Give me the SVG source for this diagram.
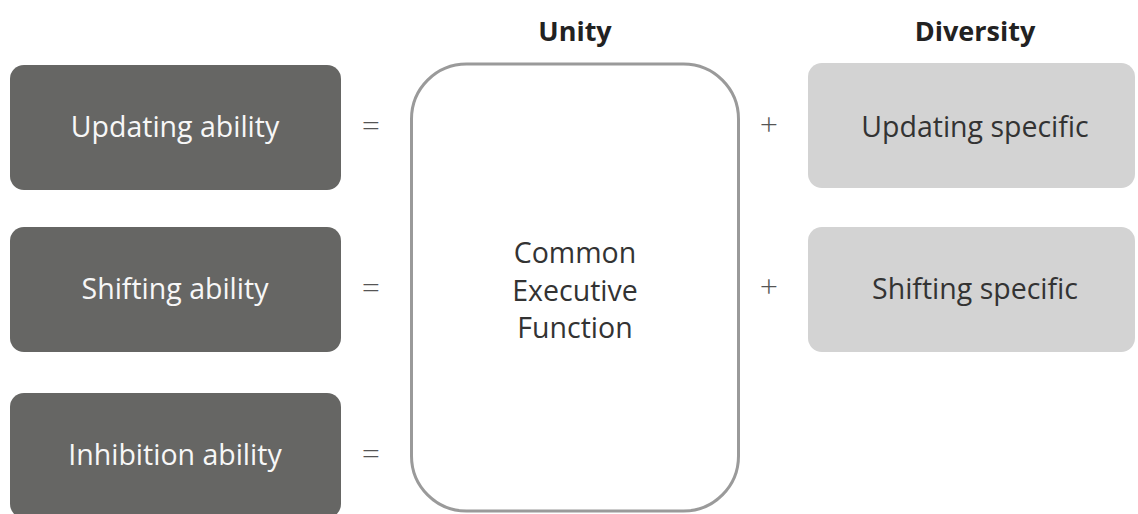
<svg xmlns="http://www.w3.org/2000/svg" width="1138" height="514" viewBox="0 0 1138 514">
<style>
text{font-family:"Open Sans","Noto Sans",sans-serif;text-anchor:middle}
.dark{fill:#666664}
.light{fill:#d3d3d3}
.lt{fill:#f7f7f7;font-size:28.5px}
.rt{fill:#333333;font-size:28.5px}
.hd{fill:#222222;font-size:27px;font-weight:bold}
.op{fill:#555555;font-size:32px;font-weight:300}
.ct{fill:#333333;font-size:28.5px}
</style>
<rect width="1138" height="514" fill="#ffffff"/>
<text class="hd" x="575" y="41">Unity</text>
<text class="hd" x="975" y="41">Diversity</text>
<g id="updating-ability"><rect class="dark" x="10" y="65" width="331" height="125" rx="14"/><text class="lt" x="175" y="137">Updating ability</text></g>
<g id="shifting-ability"><rect class="dark" x="10" y="227" width="331" height="125" rx="14"/><text class="lt" x="175" y="299">Shifting ability</text></g>
<g id="inhibition-ability"><rect class="dark" x="10" y="393" width="331" height="125" rx="14"/><text class="lt" x="175" y="465">Inhibition ability</text></g>
<g id="common-ef"><rect x="411.5" y="64" width="327" height="447" rx="55" fill="#ffffff" stroke="#9a9a9a" stroke-width="3"/>
<text class="ct" x="575" y="263">Common</text><text class="ct" x="575" y="301">Executive</text><text class="ct" x="575" y="338">Function</text></g>
<g id="updating-specific"><rect class="light" x="808" y="63" width="327" height="125" rx="14"/><text class="rt" x="975" y="137">Updating specific</text></g>
<g id="shifting-specific"><rect class="light" x="808" y="227" width="327" height="125" rx="14"/><text class="rt" x="975" y="299">Shifting specific</text></g>
<g id="connectors">
<text class="op" x="371" y="136">=</text>
<text class="op" x="371" y="298">=</text>
<text class="op" x="371" y="464">=</text>
<text class="op" x="769" y="136">+</text>
<text class="op" x="769" y="298">+</text>
</g>
</svg>
